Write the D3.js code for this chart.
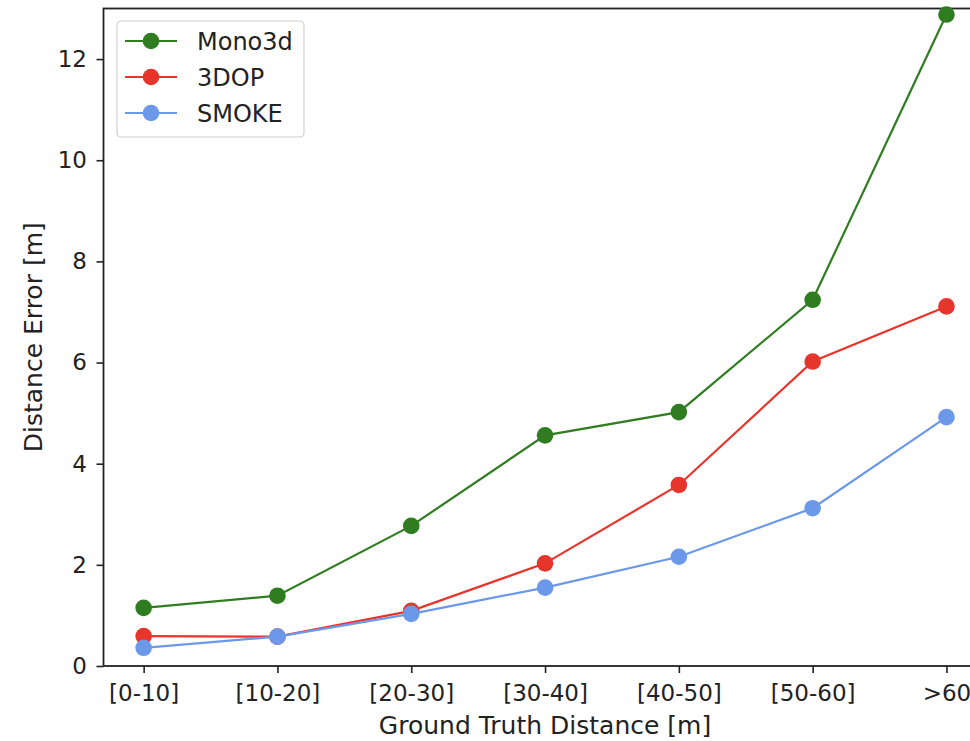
<!DOCTYPE html>
<html>
<head>
<meta charset="utf-8">
<script src="https://cdn.jsdelivr.net/npm/d3@7"></script>
<style>
  html, body { margin: 0; padding: 0; background: #fff; }
  svg { display: block; font-family: "DejaVu Sans", sans-serif; }
</style>
</head>
<body>
<svg id="chart" width="970" height="741"></svg>
<script>
const categories = ["[0-10]", "[10-20]", "[20-30]", "[30-40]", "[40-50]", "[50-60]", ">60"];
const mono3d = [1.15, 1.39, 2.77, 4.56, 5.02, 7.24, 12.88];
const dop3 = [0.59, 0.58, 1.09, 2.03, 3.58, 6.02, 7.11];
const smoke = [0.36, 0.58, 1.03, 1.55, 2.16, 3.12, 4.92];
const yTicks = [0, 2, 4, 6, 8, 10, 12];
const seriesNames = ["Mono3d", "3DOP", "SMOKE"];
const seriesColors = ["#2f7d20", "#e8352b", "#6b98e8"];

(function () {
const series = [mono3d, dop3, smoke].map((vals, i) => ({
  name: seriesNames[i], color: seriesColors[i], values: vals
}));

const svg = d3.select("#chart");
const pLeft = 103.5, pRight = 986.6, pTop = 8.5, pBottom = 666;
const tickFont = 23, legendFont = 24, labelFont = 25;

const x = d3.scalePoint().domain(categories).range([pLeft, pRight]).padding(0.3);
const y = d3.scaleLinear().domain([0, 13]).range([pBottom, pTop]);

const xAxis = d3.axisBottom(x).tickSize(7).tickPadding(12);
const yAxis = d3.axisLeft(y).tickValues(yTicks).tickSize(7).tickPadding(9.5).tickFormat(d3.format("d"));

const gx = svg.append("g").attr("transform", `translate(0,${pBottom})`).call(xAxis);
const gy = svg.append("g").attr("transform", `translate(${pLeft},0)`).call(yAxis);
[gx, gy].forEach(g => {
  g.select(".domain").remove();
  g.selectAll(".tick line").attr("stroke", "#222").attr("stroke-width", 1.6);
  g.selectAll(".tick text").attr("fill", "#222").style("font-size", tickFont + "px")
    .style("font-family", "DejaVu Sans, sans-serif");
});

svg.append("rect")
  .attr("x", pLeft).attr("y", pTop)
  .attr("width", pRight - pLeft).attr("height", pBottom - pTop)
  .attr("fill", "none").attr("stroke", "#222").attr("stroke-width", 1.8);

const line = d3.line().x((d, i) => x(categories[i])).y(d => y(d));
const gSeries = svg.append("g");
series.forEach(s => {
  gSeries.append("path").datum(s.values)
    .attr("d", line).attr("fill", "none")
    .attr("stroke", s.color).attr("stroke-width", 2.2);
  gSeries.selectAll(null).data(s.values).enter().append("circle")
    .attr("cx", (d, i) => x(categories[i])).attr("cy", d => y(d))
    .attr("r", 8.3).attr("fill", s.color);
});

const lg = svg.append("g");
lg.append("rect").attr("x", 117).attr("y", 21).attr("width", 187).attr("height", 116)
  .attr("rx", 4).attr("fill", "#fff").attr("fill-opacity", 0.85)
  .attr("stroke", "#d0d0d0").attr("stroke-width", 1.2);
series.forEach((s, i) => {
  const ly = 41 + i * 36;
  lg.append("line").attr("x1", 125).attr("x2", 177).attr("y1", ly).attr("y2", ly)
    .attr("stroke", s.color).attr("stroke-width", 2.2);
  lg.append("circle").attr("cx", 151).attr("cy", ly).attr("r", 8.3).attr("fill", s.color);
  lg.append("text").attr("x", 197).attr("y", ly).attr("dy", "0.36em")
    .attr("fill", "#222").style("font-size", legendFont + "px").text(s.name);
});

svg.append("text").attr("x", 545).attr("y", 734)
  .attr("text-anchor", "middle").attr("fill", "#222").style("font-size", labelFont + "px")
  .text("Ground Truth Distance [m]");
svg.append("text")
  .attr("transform", `translate(42,${(pTop + pBottom) / 2}) rotate(-90)`)
  .attr("text-anchor", "middle").attr("fill", "#222").style("font-size", labelFont + "px")
  .text("Distance Error [m]");
})();
</script>
</body>
</html>
